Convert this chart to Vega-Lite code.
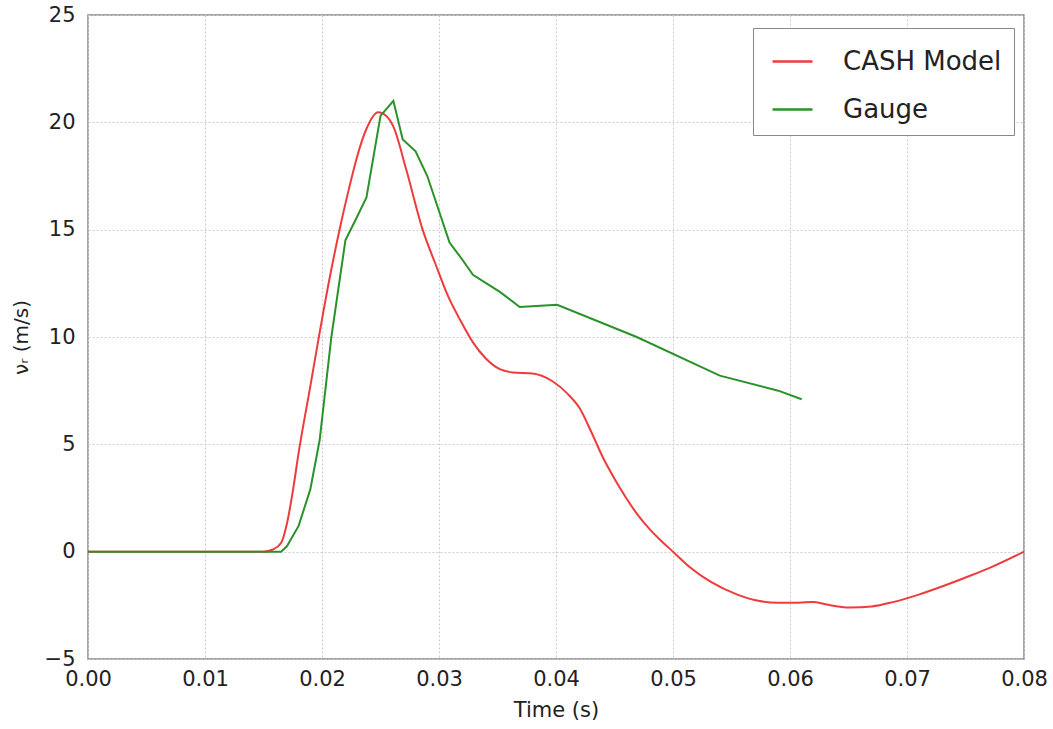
{
  "$schema": "https://vega.github.io/schema/vega-lite/v6.json",
  "width": 936,
  "height": 644,
  "autosize": {"type": "none"},
  "padding": {"left": 88, "top": 15, "right": 29, "bottom": 70},
  "background": "white",
  "config": {
    "font": "DejaVu Sans",
    "view": {"stroke": "#888888", "strokeWidth": 1.5},
    "axis": {
      "domain": false,
      "ticks": false,
      "grid": true,
      "gridColor": "#cccccc",
      "gridDash": [2, 2],
      "gridWidth": 1,
      "labelFont": "DejaVu Sans",
      "labelFontSize": 21,
      "labelColor": "#222222",
      "labelFlush": false,
      "titleFont": "DejaVu Sans",
      "titleFontSize": 21,
      "titleFontWeight": "normal",
      "titleColor": "#222222"
    }
  },
  "datasets": {
    "cash": [
      {"t": 0, "v": 0}, {"t": 0.01, "v": 0}, {"t": 0.015, "v": 0}, {"t": 0.0158, "v": 0.1},
      {"t": 0.0165, "v": 0.4}, {"t": 0.017, "v": 1.3}, {"t": 0.0175, "v": 2.8}, {"t": 0.018, "v": 4.6},
      {"t": 0.019, "v": 7.7}, {"t": 0.0197, "v": 9.9}, {"t": 0.0206, "v": 12.6}, {"t": 0.0215, "v": 15.0},
      {"t": 0.0223, "v": 16.9}, {"t": 0.023, "v": 18.4}, {"t": 0.0238, "v": 19.7}, {"t": 0.0248, "v": 20.47},
      {"t": 0.0255, "v": 20.3}, {"t": 0.0261, "v": 19.8}, {"t": 0.0272, "v": 17.8}, {"t": 0.0286, "v": 15.0},
      {"t": 0.0297, "v": 13.4}, {"t": 0.0307, "v": 12.0}, {"t": 0.0318, "v": 10.8}, {"t": 0.0329, "v": 9.75},
      {"t": 0.034, "v": 9.0}, {"t": 0.0352, "v": 8.5}, {"t": 0.0363, "v": 8.35}, {"t": 0.038, "v": 8.3},
      {"t": 0.0397, "v": 7.94}, {"t": 0.041, "v": 7.35}, {"t": 0.042, "v": 6.7}, {"t": 0.043, "v": 5.6},
      {"t": 0.044, "v": 4.4}, {"t": 0.045, "v": 3.4}, {"t": 0.046, "v": 2.5}, {"t": 0.047, "v": 1.7},
      {"t": 0.048, "v": 1.05}, {"t": 0.049, "v": 0.5}, {"t": 0.05, "v": 0},
      {"t": 0.0515, "v": -0.75}, {"t": 0.0532, "v": -1.4}, {"t": 0.0555, "v": -2.0}, {"t": 0.0574, "v": -2.3},
      {"t": 0.059, "v": -2.38}, {"t": 0.06, "v": -2.38}, {"t": 0.062, "v": -2.35}, {"t": 0.063, "v": -2.45},
      {"t": 0.0651, "v": -2.6}, {"t": 0.067, "v": -2.55}, {"t": 0.0688, "v": -2.35}, {"t": 0.071, "v": -2.0},
      {"t": 0.0731, "v": -1.6}, {"t": 0.0755, "v": -1.1}, {"t": 0.0774, "v": -0.67}, {"t": 0.08, "v": 0}
    ],
    "gauge": [
      {"t": 0, "v": 0}, {"t": 0.0165, "v": 0}, {"t": 0.017, "v": 0.25}, {"t": 0.018, "v": 1.2},
      {"t": 0.019, "v": 2.9}, {"t": 0.0198, "v": 5.2}, {"t": 0.0208, "v": 10.0}, {"t": 0.022, "v": 14.5},
      {"t": 0.023, "v": 15.6}, {"t": 0.0238, "v": 16.5}, {"t": 0.025, "v": 20.3}, {"t": 0.0261, "v": 21.0},
      {"t": 0.0269, "v": 19.2}, {"t": 0.028, "v": 18.65}, {"t": 0.029, "v": 17.5}, {"t": 0.0309, "v": 14.4},
      {"t": 0.032, "v": 13.6}, {"t": 0.0329, "v": 12.9}, {"t": 0.0352, "v": 12.1}, {"t": 0.0369, "v": 11.4},
      {"t": 0.0401, "v": 11.5}, {"t": 0.0469, "v": 10.0}, {"t": 0.054, "v": 8.2}, {"t": 0.059, "v": 7.5},
      {"t": 0.061, "v": 7.1}
    ]
  },
  "encoding": {
    "x": {
      "field": "t", "type": "quantitative", "title": "Time (s)",
      "scale": {"domain": [0, 0.08], "nice": false},
      "axis": {"values": [0, 0.01, 0.02, 0.03, 0.04, 0.05, 0.06, 0.07, 0.08], "format": ".2f", "labelPadding": 9, "titlePadding": 10}
    },
    "y": {
      "field": "v", "type": "quantitative", "title": "νᵣ (m/s)",
      "scale": {"domain": [-5, 25], "nice": false},
      "axis": {"values": [-5, 0, 5, 10, 15, 20, 25], "format": "d", "labelPadding": 13, "titlePadding": 13, "titleFontSize": 20}
    },
    "color": {
      "field": "series", "type": "nominal",
      "scale": {"domain": ["CASH Model", "Gauge"], "range": ["#ef3b3b", "#2a922a"]},
      "legend": {
        "title": null,
        "orient": "none",
        "legendX": 665,
        "legendY": 13,
        "symbolType": "stroke",
        "symbolSize": 1600,
        "symbolStrokeWidth": 2.5,
        "symbolOffset": 6,
        "labelFontSize": 26,
        "labelColor": "#222222",
        "labelOffset": 29,
        "rowPadding": 13,
        "padding": 12,
        "strokeColor": "#888888",
        "fillColor": "white",
        "labelLimit": 300
      }
    }
  },
  "layer": [
    {
      "data": {"name": "cash"},
      "transform": [{"calculate": "'CASH Model'", "as": "series"}],
      "mark": {"type": "line", "interpolate": "monotone", "strokeWidth": 2}
    },
    {
      "data": {"name": "gauge"},
      "transform": [{"calculate": "'Gauge'", "as": "series"}],
      "mark": {"type": "line", "strokeWidth": 2}
    }
  ]
}
